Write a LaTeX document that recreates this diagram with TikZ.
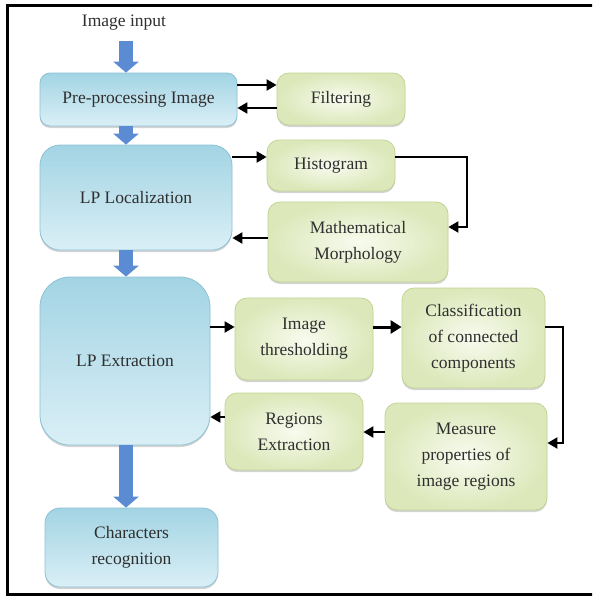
\documentclass[tikz,border=0pt]{standalone}
\usepackage{fontspec}
\setmainfont{Liberation Serif}
\usetikzlibrary{arrows.meta,shadows,calc}
\definecolor{txt}{HTML}{2F2F2F}
\definecolor{bluetop}{HTML}{A3D4E4}
\definecolor{bluebot}{HTML}{DAEFF6}
\definecolor{blueline}{HTML}{8CC2D4}
\definecolor{greenin}{HTML}{F8FBEF}
\definecolor{greenout}{HTML}{DCE8BA}
\definecolor{greenline}{HTML}{C2D494}
\definecolor{arrowblue}{HTML}{5B8BD2}
\tikzset{
  every node/.style={font=\fontsize{17.5}{26}\selectfont, text=txt, align=center},
  bluebox/.style={rectangle, draw=blueline, line width=0.8pt, top color=bluetop, bottom color=bluebot,
     drop shadow={shadow xshift=0pt, shadow yshift=-2pt, opacity=0.35, fill=gray}},
  greenbox/.style={rectangle, draw=greenline, line width=0.8pt, inner color=greenin, outer color=greenout,
     rounded corners=12pt, drop shadow={shadow xshift=0pt, shadow yshift=-2pt, opacity=0.35, fill=gray}},
  conn/.style={line width=2pt, black, -{Triangle[width=11pt,length=10pt]}},
  thickconn/.style={line width=3pt, black, -{Triangle[width=13pt,length=11pt]}},
  blockarrow/.style={line width=14pt, arrowblue, -{Triangle[width=25pt,length=11pt]}},
}
\begin{document}
\begin{tikzpicture}[x=1pt,y=-1pt]
\useasboundingbox (0,0) rectangle (592,597);
\clip (0,0) rectangle (592,597);
\draw[line width=3pt] (7,5) rectangle (640,594);

\node (input) at (124,23) {Image input};
\coordinate (ax) at (126,0);

\node[bluebox, rounded corners=10pt, minimum width=197pt, minimum height=53pt] (pre) at (138.5,99.5) {Pre-processing Image};
\node[bluebox, rounded corners=20pt, minimum width=192pt, minimum height=105pt] (loc) at (136,197.5) {LP Localization};
\node[bluebox, rounded corners=30pt, minimum width=170pt, minimum height=168pt] (ext) at (125,361) {LP Extraction};
\node[bluebox, rounded corners=15pt, minimum width=173pt, minimum height=79pt] (chr) at (131.5,547.5) {Characters\\recognition};

\node[greenbox, minimum width=128pt, minimum height=52pt] (filt) at (341,99) {Filtering};
\node[greenbox, minimum width=128pt, minimum height=51pt] (hist) at (331,165.5) {Histogram};
\node[greenbox, minimum width=180pt, minimum height=80pt] (morph) at (358,242) {Mathematical\\Morphology};
\node[greenbox, minimum width=138pt, minimum height=82pt] (thr) at (304,339) {Image\\thresholding};
\node[greenbox, minimum width=143pt, minimum height=100pt] (cls) at (473.5,338) {Classification\\of connected\\components};
\node[greenbox, minimum width=162pt, minimum height=107pt] (meas) at (466,456.5) {Measure\\properties of\\image regions};
\node[greenbox, minimum width=138pt, minimum height=77pt] (reg) at (294,431.5) {Regions\\Extraction};

% blue flow arrows
\draw[blockarrow, shorten <=7pt] (ax |- input.south) -- (ax |- pre.north);
\draw[blockarrow] (ax |- pre.south) -- (ax |- loc.north);
\draw[blockarrow] (ax |- loc.south) -- (ax |- ext.north);
\draw[blockarrow] (ax |- ext.south) -- (ax |- chr.north);

% connectors
\draw[conn] ([yshift=14.5pt]pre.east) -- ([yshift=14.5pt]pre.east -| filt.west);
\draw[conn] ([yshift=-9pt]filt.west) -- ([yshift=-9pt]filt.west -| pre.east);
\draw[conn] ([yshift=40.5pt]loc.east) -- ([yshift=40.5pt]loc.east -| hist.west);
\draw[conn] ([yshift=8.5pt]hist.east) -- ++(72pt,0pt) |- ([yshift=15pt]morph.east);
\draw[conn] ([yshift=4pt]morph.west) -- ([yshift=4pt]morph.west -| loc.east);
\draw[conn] ([yshift=12pt]thr.west -| ext.east) -- ([yshift=12pt]thr.west);
\draw[thickconn] ([yshift=12pt]thr.east) -- ([yshift=12pt]thr.east -| cls.west);
\draw[conn] ([yshift=11pt]cls.east) -- ++(18pt,0pt) |- ([yshift=13.5pt]meas.east);
\draw[conn] ([yshift=24.5pt]meas.west) -- ([yshift=24.5pt]meas.west -| reg.east);
\draw[conn] ([yshift=14.5pt]reg.west) -- ([yshift=14.5pt]reg.west -| ext.east);
\end{tikzpicture}
\end{document}
